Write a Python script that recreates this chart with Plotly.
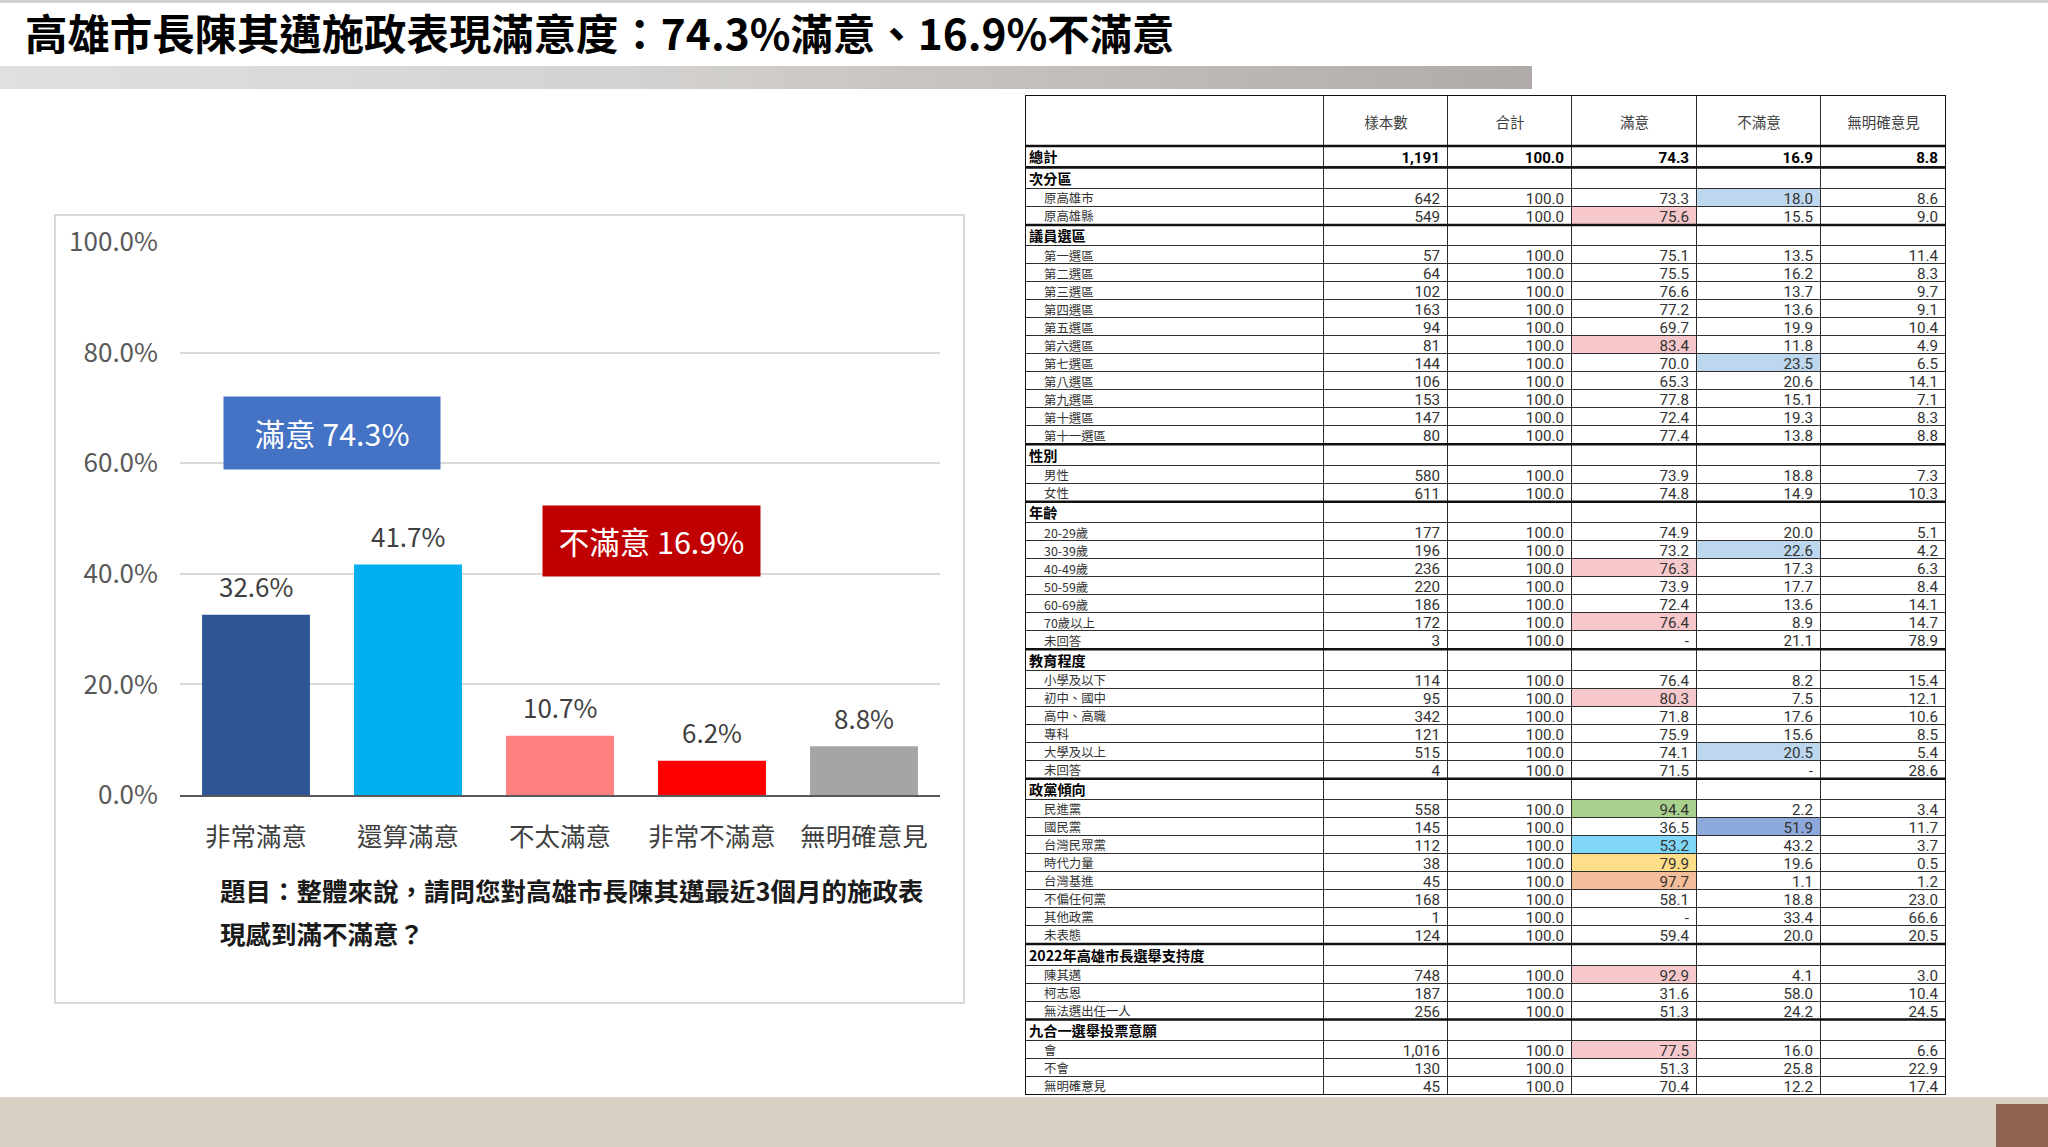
import plotly.graph_objects as go

W, H = 2048, 1147
FONT = "Noto Sans CJK TC"
NUM_FONT = "Roboto"

# ---------------- data: bar chart ----------------
bar_categories = ["非常滿意", "還算滿意", "不太滿意", "非常不滿意", "無明確意見"]
bar_values = [32.6, 41.7, 10.7, 6.2, 8.8]
bar_colors = ["#2F5597", "#00B0F0", "#FF8080", "#FF0000", "#A5A5A5"]
y_ticks = [0, 20, 40, 60, 80, 100]

title_text = "高雄市長陳其邁施政表現滿意度：74.3%滿意、16.9%不滿意"
question_lines = ["題目：整體來說，請問您對高雄市長陳其邁最近3個月的施政表",
                  "現感到滿不滿意？"]

# ---------------- data: cross table ----------------
tbl_header = ["", "樣本數", "合計", "滿意", "不滿意", "無明確意見"]
tbl_labels = [
    "總計",
    "次分區", "原高雄市", "原高雄縣",
    "議員選區", "第一選區", "第二選區", "第三選區", "第四選區", "第五選區", "第六選區",
    "第七選區", "第八選區", "第九選區", "第十選區", "第十一選區",
    "性別", "男性", "女性",
    "年齡", "20-29歲", "30-39歲", "40-49歲", "50-59歲", "60-69歲", "70歲以上", "未回答",
    "教育程度", "小學及以下", "初中、國中", "高中、高職", "專科", "大學及以上", "未回答",
    "政黨傾向", "民進黨", "國民黨", "台灣民眾黨", "時代力量", "台灣基進", "不偏任何黨", "其他政黨", "未表態",
    "2022年高雄市長選舉支持度", "陳其邁", "柯志恩", "無法選出任一人",
    "九合一選舉投票意願", "會", "不會", "無明確意見",
]
tbl_n = [1191,
         None, 642, 549,
         None, 57, 64, 102, 163, 94, 81, 144, 106, 153, 147, 80,
         None, 580, 611,
         None, 177, 196, 236, 220, 186, 172, 3,
         None, 114, 95, 342, 121, 515, 4,
         None, 558, 145, 112, 38, 45, 168, 1, 124,
         None, 748, 187, 256,
         None, 1016, 130, 45]
tbl_sat = [74.3,
           None, 73.3, 75.6,
           None, 75.1, 75.5, 76.6, 77.2, 69.7, 83.4, 70.0, 65.3, 77.8, 72.4, 77.4,
           None, 73.9, 74.8,
           None, 74.9, 73.2, 76.3, 73.9, 72.4, 76.4, "-",
           None, 76.4, 80.3, 71.8, 75.9, 74.1, 71.5,
           None, 94.4, 36.5, 53.2, 79.9, 97.7, 58.1, "-", 59.4,
           None, 92.9, 31.6, 51.3,
           None, 77.5, 51.3, 70.4]
tbl_unsat = [16.9,
             None, 18.0, 15.5,
             None, 13.5, 16.2, 13.7, 13.6, 19.9, 11.8, 23.5, 20.6, 15.1, 19.3, 13.8,
             None, 18.8, 14.9,
             None, 20.0, 22.6, 17.3, 17.7, 13.6, 8.9, 21.1,
             None, 8.2, 7.5, 17.6, 15.6, 20.5, "-",
             None, 2.2, 51.9, 43.2, 19.6, 1.1, 18.8, 33.4, 20.0,
             None, 4.1, 58.0, 24.2,
             None, 16.0, 25.8, 12.2]
tbl_none = [8.8,
            None, 8.6, 9.0,
            None, 11.4, 8.3, 9.7, 9.1, 10.4, 4.9, 6.5, 14.1, 7.1, 8.3, 8.8,
            None, 7.3, 10.3,
            None, 5.1, 4.2, 6.3, 8.4, 14.1, 14.7, 78.9,
            None, 15.4, 12.1, 10.6, 8.5, 5.4, 28.6,
            None, 3.4, 11.7, 3.7, 0.5, 1.2, 23.0, 66.6, 20.5,
            None, 3.0, 10.4, 24.5,
            None, 6.6, 22.9, 17.4]
tbl_total = [None if n is None else 100.0 for n in tbl_n]

# highlighted cells (row label, column, colour)
hl_rows = ["原高雄市", "原高雄縣", "第六選區", "第七選區", "30-39歲", "40-49歲", "70歲以上",
           "初中、國中", "大學及以上", "民進黨", "國民黨", "台灣民眾黨", "時代力量", "台灣基進",
           "陳其邁", "會"]
hl_cols = ["不滿意", "滿意", "滿意", "不滿意", "不滿意", "滿意", "滿意",
           "滿意", "不滿意", "滿意", "不滿意", "滿意", "滿意", "滿意",
           "滿意", "滿意"]
PINK, BLUE = "#F6C8CC", "#BDD7EE"
hl_colors = [BLUE, PINK, PINK, BLUE, BLUE, PINK, PINK,
             PINK, BLUE, "#A9D18E", "#8EA9DB", "#7FD6F6", "#FFDE8A", "#F5BE9A",
             PINK, PINK]

# ---------------- helpers ----------------
def px(x):
    return x / W


def py(y):
    return 1 - y / H


def fmt(v):
    if v is None:
        return ""
    if isinstance(v, str):
        return v
    return f"{v:.1f}"


fig = go.Figure()

# ---------------- bar chart ----------------
fig.add_trace(go.Bar(
    x=bar_categories, y=bar_values,
    marker=dict(color=bar_colors, line=dict(width=0)),
    hoverinfo="skip", showlegend=False,
    xaxis="x", yaxis="y",
))

annotations = []
for c, v in zip(bar_categories, bar_values):
    annotations.append(dict(
        x=c, y=v, xref="x", yref="y", text=f"{v:.1f}%", showarrow=False,
        yanchor="middle", yshift=29,
        font=dict(family=FONT, size=26, color="#404040"),
    ))

sat_total = bar_values[0] + bar_values[1]
unsat_total = bar_values[2] + bar_values[3]
annotations.append(dict(
    x=0.5, y=65.4, xref="x", yref="y", text=f"滿意 {sat_total:.1f}%", showarrow=False,
    width=216, height=72, bgcolor="#4472C4", borderpad=0,
    font=dict(family=FONT, size=30.5, color="white"),
))
annotations.append(dict(
    x=2.6, y=46.0, xref="x", yref="y", text=f"不滿意 {unsat_total:.1f}%", showarrow=False,
    width=217, height=70, bgcolor="#C00000", borderpad=0,
    font=dict(family=FONT, size=30.5, color="white"),
))

# title + question
annotations.append(dict(
    x=px(23), y=py(32), xref="paper", yref="paper", xanchor="left", yanchor="middle",
    text=f"<b>{title_text}</b>", showarrow=False,
    font=dict(family=FONT, size=42.4, color="#000000"),
))
for yy, line in zip([890, 933], question_lines):
    annotations.append(dict(
        x=px(218), y=py(yy), xref="paper", yref="paper", xanchor="left", yanchor="middle",
        text=f"<b>{line}</b>", showarrow=False,
        font=dict(family=FONT, size=25.5, color="#1a1a1a"),
    ))

# ---------------- table (heatmap cells + text on its own axes) ----------------
T_LEFT, T_RIGHT, T_TOP, T_BOTTOM = 1025, 1946, 95, 1095
col_widths = [299, 124, 124, 125, 124, 125]
HEADER_H, TOTAL_H, SECTION_H, ROW_H = 51, 21.5, 21.5, 17.99

n_rows = len(tbl_labels)
is_section = [tbl_n[i] is None for i in range(n_rows)]
is_bold = [i == 0 or is_section[i] for i in range(n_rows)]
row_h = [TOTAL_H if i == 0 else (SECTION_H if is_section[i] else ROW_H) for i in range(n_rows)]

col_edges = [0]
for w_ in col_widths:
    col_edges.append(col_edges[-1] + w_)
row_edges = [0, HEADER_H]
for h_ in row_h:
    row_edges.append(row_edges[-1] + h_)
TW, TH = col_edges[-1], row_edges[-1]

palette = ["#FFFFFF"] + sorted(set(hl_colors), key=hl_colors.index)
z = [[0] * len(tbl_header) for _ in range(n_rows + 1)]
for r, c, col in zip(hl_rows, hl_cols, hl_colors):
    z[tbl_labels.index(r) + 1][tbl_header.index(c)] = palette.index(col)
cscale = [[k / (len(palette) - 1), p] for k, p in enumerate(palette)]

fig.add_trace(go.Heatmap(
    x=col_edges, y=row_edges, z=z, zmin=0, zmax=len(palette) - 1,
    colorscale=cscale, showscale=False, xgap=1, ygap=1,
    hoverinfo="skip", xaxis="x2", yaxis="y2",
))

# cell texts
num_cols = [[f"{n:,}" if n is not None else "" for n in tbl_n],
            [fmt(v) for v in tbl_total], [fmt(v) for v in tbl_sat],
            [fmt(v) for v in tbl_unsat], [fmt(v) for v in tbl_none]]
PAD_R, PAD_SEC, PAD_ITEM, TXT_DY = 8, 4, 19, 2.2
LABEL_SIZE, BOLD_LABEL_SIZE, NUM_SIZE = 12.4, 14.2, 15.2
lab = {False: dict(x=[], y=[], text=[]), True: dict(x=[], y=[], text=[])}
num = {False: dict(x=[], y=[], text=[]), True: dict(x=[], y=[], text=[])}
for i in range(n_rows):
    yc = (row_edges[i + 1] + row_edges[i + 2]) / 2 + TXT_DY
    g = lab[is_bold[i]]
    g["x"].append(col_edges[0] + (PAD_SEC if is_bold[i] else PAD_ITEM))
    g["y"].append(yc)
    g["text"].append(tbl_labels[i])
    g = num[is_bold[i]]
    for j, colv in enumerate(num_cols):
        if colv[i] == "":
            continue
        g["x"].append(col_edges[j + 2] - PAD_R)
        g["y"].append(yc)
        g["text"].append(colv[i])
for b in (False, True):
    for g, fam, size, pos in ((lab[b], FONT, BOLD_LABEL_SIZE if b else LABEL_SIZE, "middle right"),
                              (num[b], NUM_FONT, NUM_SIZE, "middle left")):
        fig.add_trace(go.Scatter(
            x=g["x"], y=g["y"], text=g["text"], mode="text", textposition=pos,
            textfont=dict(family=fam, size=size, color="#000000" if b else "#333333",
                          weight="bold" if b else "normal"),
            hoverinfo="skip", showlegend=False, xaxis="x2", yaxis="y2", cliponaxis=False,
        ))
# header texts
fig.add_trace(go.Scatter(
    x=[(col_edges[j] + col_edges[j + 1]) / 2 for j in range(1, len(tbl_header))],
    y=[HEADER_H / 2 + 3.5] * (len(tbl_header) - 1),
    text=tbl_header[1:], mode="text", textposition="middle center",
    textfont=dict(family=FONT, size=14.5, color="#404040"),
    hoverinfo="skip", showlegend=False, xaxis="x2", yaxis="y2", cliponaxis=False,
))

# ---------------- decorative shapes ----------------
shapes = []
shapes.append(dict(type="rect", xref="paper", yref="paper", x0=0, x1=1, y0=py(3), y1=1,
                   fillcolor="#D0D0D0", line=dict(width=0), layer="below"))
stops = [(0.0, (224, 224, 224)), (0.4, (213, 211, 209)), (0.6, (200, 196, 193)), (1.0, (176, 171, 168))]


def grad(t):
    for (t0, c0), (t1, c1) in zip(stops[:-1], stops[1:]):
        if t0 <= t <= t1:
            f = (t - t0) / (t1 - t0)
            return "rgb(%d,%d,%d)" % tuple(round(a + (b - a) * f) for a, b in zip(c0, c1))
    return "rgb(%d,%d,%d)" % stops[-1][1]


NSEG = 90
BAR_X1 = 1532
for k in range(NSEG):
    x0 = BAR_X1 * k / NSEG
    x1 = min(BAR_X1 * (k + 1) / NSEG + 0.8, BAR_X1)
    shapes.append(dict(type="rect", xref="paper", yref="paper",
                       x0=px(x0), x1=px(x1), y0=py(89), y1=py(66),
                       fillcolor=grad((k + 0.5) / NSEG), line=dict(width=0), layer="below"))
shapes.append(dict(type="rect", xref="paper", yref="paper", x0=px(55), x1=px(964), y0=py(1003), y1=py(215),
                   fillcolor="white", line=dict(color="#D9D9D9", width=2), layer="below"))
shapes.append(dict(type="rect", xref="paper", yref="paper", x0=0, x1=1, y0=0, y1=py(1097),
                   fillcolor="#D8D1C3", line=dict(width=0), layer="below"))
shapes.append(dict(type="rect", xref="paper", yref="paper", x0=px(1996), x1=1, y0=0, y1=py(1104),
                   fillcolor="#8E6151", line=dict(width=0), layer="above"))
# dark backing behind the table cells -> the cell gaps become grid lines
shapes.append(dict(type="rect", xref="x2", yref="y2", x0=0, x1=TW, y0=0, y1=TH,
                   fillcolor="#2e2e2e", line=dict(width=0), layer="below"))
# heavy rules: below header, and above each section row (incl. below the total row)
heavy = [row_edges[1]] + [row_edges[i + 1] for i in range(n_rows) if is_section[i]]
for yy in heavy:
    shapes.append(dict(type="line", xref="x2", yref="y2", x0=0, x1=TW, y0=yy, y1=yy,
                       line=dict(color="#111111", width=2.5), layer="above"))
shapes.append(dict(type="rect", xref="x2", yref="y2", x0=0, x1=TW, y0=0, y1=TH,
                   line=dict(color="#111111", width=2), layer="above"))

fig.update_layout(
    width=W, height=H,
    margin=dict(l=0, r=0, t=0, b=0, pad=0, autoexpand=False),
    paper_bgcolor="white", plot_bgcolor="rgba(0,0,0,0)",
    font=dict(family=FONT),
    bargap=0.29,
    xaxis=dict(
        domain=[px(180), px(940)], anchor="y", automargin=False,
        showline=True, linecolor="#595959", linewidth=2,
        ticks="", showgrid=False, zeroline=False,
        tickfont=dict(family=FONT, size=25.5, color="#404040"),
        ticklabelstandoff=18, fixedrange=True,
    ),
    yaxis=dict(
        domain=[py(795), py(242)], anchor="x", range=[0, 100], automargin=False,
        tickmode="array", tickvals=y_ticks, ticktext=[f"{v:.1f}%" for v in y_ticks],
        showgrid=True, gridcolor="#D9D9D9", gridwidth=2,
        showline=False, zeroline=False, ticks="",
        tickfont=dict(family=FONT, size=26, color="#595959"),
        ticklabelstandoff=21, fixedrange=True,
    ),
    xaxis2=dict(domain=[px(T_LEFT), px(T_RIGHT)], anchor="y2", range=[0, TW],
                visible=False, fixedrange=True, automargin=False),
    yaxis2=dict(domain=[py(T_BOTTOM), py(T_TOP)], anchor="x2", range=[TH, 0],
                visible=False, fixedrange=True, automargin=False),
    annotations=annotations,
    shapes=shapes,
    showlegend=False,
)

fig.write_html("out.html", include_plotlyjs=True, config={"displayModeBar": False},
               post_script="document.body.style.margin='0';")
